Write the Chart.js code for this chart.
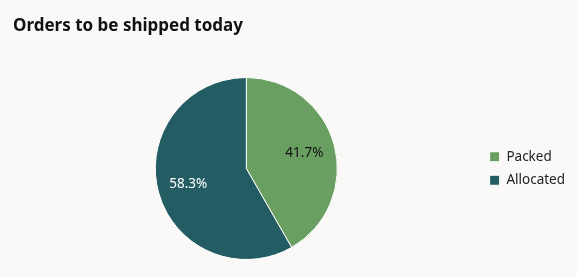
<!DOCTYPE html>
<html>
<head>
<meta charset="utf-8">
<script src="https://cdn.jsdelivr.net/npm/chart.js@4"></script>
<style>
  html, body { margin: 0; padding: 0; background: #faf9f8; }
  #wrap { width: 577px; height: 277px; position: relative; }
</style>
</head>
<body>
<div id="wrap"><canvas id="orders-chart"></canvas></div>
<script>
const labels = ['Packed', 'Allocated'];
const shares = [41.7, 58.3];
const colors = ['#6a9f62', '#245c64'];
const labelColors = ['#111111', '#ffffff'];

// draws the percentage inside each slice
const sliceLabels = {
    id: 'sliceLabels',
    afterDatasetsDraw(chart) {
        const { ctx } = chart;
        const meta = chart.getDatasetMeta(0);
        const total = shares.reduce((a, b) => a + b, 0);
        ctx.save();
        ctx.font = '13.5px "Noto Sans", sans-serif';
        ctx.textAlign = 'center';
        ctx.textBaseline = 'middle';
        meta.data.forEach((arc, i) => {
            const mid = (arc.startAngle + arc.endAngle) / 2;
            const r = arc.outerRadius * 0.66;
            ctx.fillStyle = labelColors[i];
            ctx.fillText((shares[i] / total * 100).toFixed(1) + '%', arc.x + Math.cos(mid) * r, arc.y + Math.sin(mid) * r);
        });
        ctx.restore();
    }
};

new Chart(document.getElementById('orders-chart'), {
    type: 'pie',
    data: { labels, datasets: [{ data: shares, backgroundColor: colors, borderColor: '#ffffff', borderWidth: 1 }] },
    options: {
        responsive: true, maintainAspectRatio: false, animation: false,
        layout: { padding: { left: 13, right: 2, bottom: 17 } },
        plugins: {
            title: { display: true, text: 'Orders to be shipped today', align: 'start', color: '#111111', font: { family: '"Noto Sans", sans-serif', size: 17, weight: 'bold' }, padding: { top: 16, bottom: 40.6 } },
            legend: { position: 'right', fullSize: false, labels: { boxWidth: 10, boxHeight: 10, padding: 10, color: '#222222', font: { family: '"Noto Sans", sans-serif', size: 13.5 } } },
            tooltip: { enabled: false }
        }
    },
    plugins: [sliceLabels]
});
</script>
</body>
</html>
